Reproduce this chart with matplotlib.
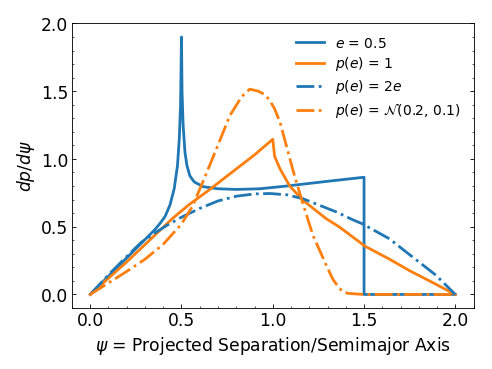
import matplotlib
matplotlib.use("Agg")
import matplotlib.pyplot as plt
from matplotlib.ticker import MultipleLocator

# e = 0.5 (single eccentricity)
psi_e05 = [0.0, 0.1, 0.2, 0.3, 0.353, 0.38, 0.41, 0.437, 0.46, 0.478, 0.488, 0.495, 0.50,
           0.503, 0.509, 0.519, 0.53, 0.546, 0.57, 0.62, 0.70, 0.80, 0.93, 1.075,
           1.30, 1.50, 1.50, 2.0]
dp_e05 = [0.0, 0.135, 0.27, 0.405, 0.477, 0.52, 0.575, 0.66, 0.78, 0.95, 1.15, 1.4, 1.90,
          1.5, 1.25, 1.05, 0.95, 0.875, 0.83, 0.795, 0.78, 0.775, 0.78, 0.80,
          0.835, 0.865, 0.0, 0.0]

# p(e) = 1
psi_flat = [0.0, 0.1, 0.2, 0.353, 0.45, 0.536, 0.65, 0.80, 0.90, 1.0, 1.01, 1.04, 1.093,
            1.166, 1.293, 1.366, 1.475, 1.5, 1.64, 1.75, 1.88, 2.0]
dp_flat = [0.0, 0.12, 0.24, 0.436, 0.56, 0.657, 0.77, 0.926, 1.03, 1.145, 1.02, 0.926, 0.80,
           0.694, 0.559, 0.497, 0.387, 0.36, 0.26, 0.175, 0.085, 0.0]

# p(e) = 2e
psi_lin = [0.0, 0.1, 0.2, 0.28, 0.35, 0.42, 0.50, 0.60, 0.70, 0.80, 0.90, 0.984, 1.08,
           1.166, 1.35, 1.44, 1.49, 1.64, 1.73, 1.894, 2.0]
dp_lin = [0.0, 0.145, 0.28, 0.385, 0.45, 0.51, 0.57, 0.635, 0.69, 0.725, 0.742, 0.745, 0.735,
          0.706, 0.608, 0.55, 0.522, 0.41, 0.314, 0.142, 0.0]

# p(e) = N(0.2, 0.1)
psi_gauss = [0.0, 0.1, 0.2, 0.3, 0.4, 0.5, 0.56, 0.62, 0.69, 0.765, 0.83, 0.874, 0.92, 0.95,
             0.98, 1.01, 1.04, 1.08, 1.11, 1.157, 1.22, 1.293, 1.33, 1.366, 1.39, 1.42, 1.5, 2.0]
dp_gauss = [0.0, 0.085, 0.17, 0.26, 0.37, 0.52, 0.65, 0.84, 1.07, 1.32, 1.46, 1.515, 1.50, 1.48,
            1.44, 1.37, 1.27, 1.07, 0.92, 0.706, 0.436, 0.216, 0.11, 0.044, 0.015, 0.007, 0.0, 0.0]

fig = plt.figure(figsize=(6.4, 4.8), dpi=77)
ax = fig.add_axes([0.146, 0.165, 0.815, 0.77])
lw = 2.6
ax.plot(psi_e05, dp_e05, color="#1f77b4", lw=lw, label=r"$e$ = 0.5")
ax.plot(psi_flat, dp_flat, color="#ff7f0e", lw=lw, label=r"$p$($e$) = 1")
ax.plot(psi_lin, dp_lin, color="#1f77b4", lw=lw, ls="-.", label=r"$p$($e$) = 2$e$")
ax.plot(psi_gauss, dp_gauss, color="#ff7f0e", lw=lw, ls="-.",
        label=r"$p$($e$) = $\mathcal{N}$(0.2, 0.1)")

ax.set_xlim(-0.1, 2.1); ax.set_ylim(-0.1, 2.0)
ax.xaxis.set_major_locator(MultipleLocator(0.5)); ax.xaxis.set_minor_locator(MultipleLocator(0.1))
ax.yaxis.set_major_locator(MultipleLocator(0.5)); ax.yaxis.set_minor_locator(MultipleLocator(0.1))
ax.tick_params(which="both", direction="in", right=True, labelsize=16)
ax.set_xlabel(r"$\psi$ = Projected Separation/Semimajor Axis", fontsize=16)
ax.set_ylabel(r"$dp/d\psi$", fontsize=16)
ax.legend(loc="upper right", frameon=False, fontsize=13, labelspacing=0.35)
plt.savefig("out.png", dpi=77)
